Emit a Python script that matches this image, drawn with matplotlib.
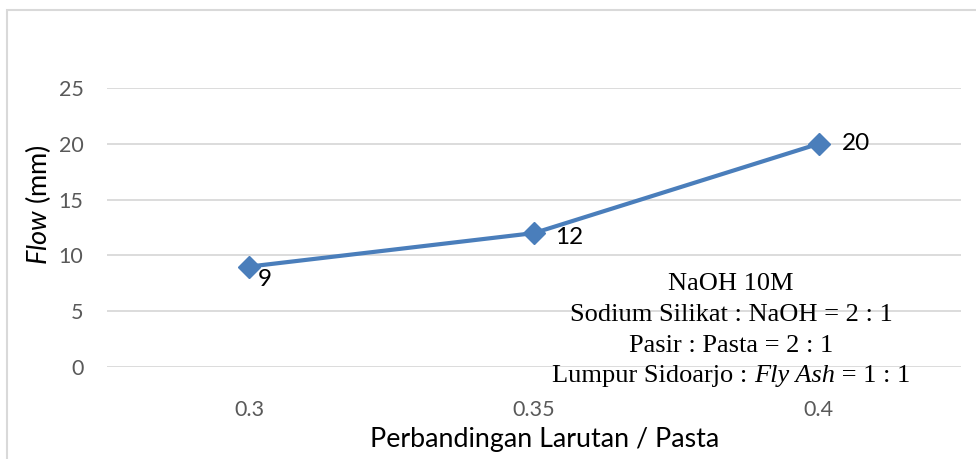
import matplotlib
matplotlib.use("Agg")
import matplotlib.pyplot as plt
from matplotlib.patches import Rectangle

categories = ["0.3", "0.35", "0.4"]
flow = [9, 12, 20]
yticks = [0, 5, 10, 15, 20, 25]
note_lines = ["NaOH 10M", "Sodium Silikat : NaOH = 2 : 1", "Pasir : Pasta = 2 : 1"]
note_last = ["Lumpur Sidoarjo : ", "Fly Ash", " = 1 : 1"]

plt.rcParams['mathtext.fontset'] = 'custom'
plt.rcParams['mathtext.rm'] = 'Lato'
plt.rcParams['mathtext.it'] = 'Lato:italic'

W, H = 976, 459
fig = plt.figure(figsize=(W/100, H/100), dpi=100)
ax = fig.add_axes([107/W, 1-367/H, (961-107)/W, (367-88)/H])

xs = list(range(len(categories)))
ax.plot(xs, flow, color="#4A7EBB", lw=3.0, marker="D", ms=11, zorder=3, clip_on=False)
ax.set_xlim(-0.5, len(categories)-0.5)
ax.set_ylim(0, 25)
ax.set_yticks(yticks)
ax.set_xticks(xs)
ax.set_xticklabels(categories)
ax.grid(axis="y", color="#D9D9D9", lw=1.3)
ax.set_axisbelow(True)
for s in ax.spines.values():
    s.set_visible(False)
ax.tick_params(length=0, labelsize=15.5, labelcolor="#595959", pad=0)
for lab in ax.get_yticklabels() + ax.get_xticklabels():
    lab.set_fontfamily("Lato")
ax.tick_params(axis="y", pad=17)
ax.tick_params(axis="x", pad=23.5)

offsets = [(6, -9), (15, -3), (17, 0)]
for x, v, off in zip(xs, flow, offsets):
    ax.annotate(str(v), (x, v), xytext=off, textcoords="offset points",
                ha="left", va="center", fontsize=17.5, family="Lato", color="black")

fig.text(545/W, 1-440/H, "Perbandingan Larutan / Pasta", ha="center", va="center",
         fontsize=19.3, family="Lato", color="black")
fig.text(38/W, 1-205/H, r"$\mathit{Flow}$ (mm)", rotation=90, ha="center", va="center",
         fontsize=19.5, family="Lato", color="black")

cx = 731
ys = [284, 315, 346, 376]
fs = 19
for t, y in zip(note_lines, ys):
    fig.text(cx/W, 1-y/H, t, ha="center", va="center", fontsize=fs,
             family="Liberation Serif", color="black")

fig.canvas.draw()
r = fig.canvas.get_renderer()
pieces = []
for i, t in enumerate(note_last):
    style = "italic" if i == 1 else "normal"
    tx = fig.text(0, 1-ys[3]/H, t, ha="left", va="center", fontsize=fs,
                  family="Liberation Serif", style=style, color="black")
    pieces.append(tx)
widths = [p.get_window_extent(r).width for p in pieces]
x0 = cx - sum(widths)/2
for p, w in zip(pieces, widths):
    p.set_x(x0/W)
    x0 += w

fig.patches.append(Rectangle((7/W, -0.1), 1.2, (H-10)/H + 0.1, transform=fig.transFigure,
                             fill=False, edgecolor="#D9D9D9", lw=1.5, figure=fig))

fig.savefig("out.png", dpi=100)
